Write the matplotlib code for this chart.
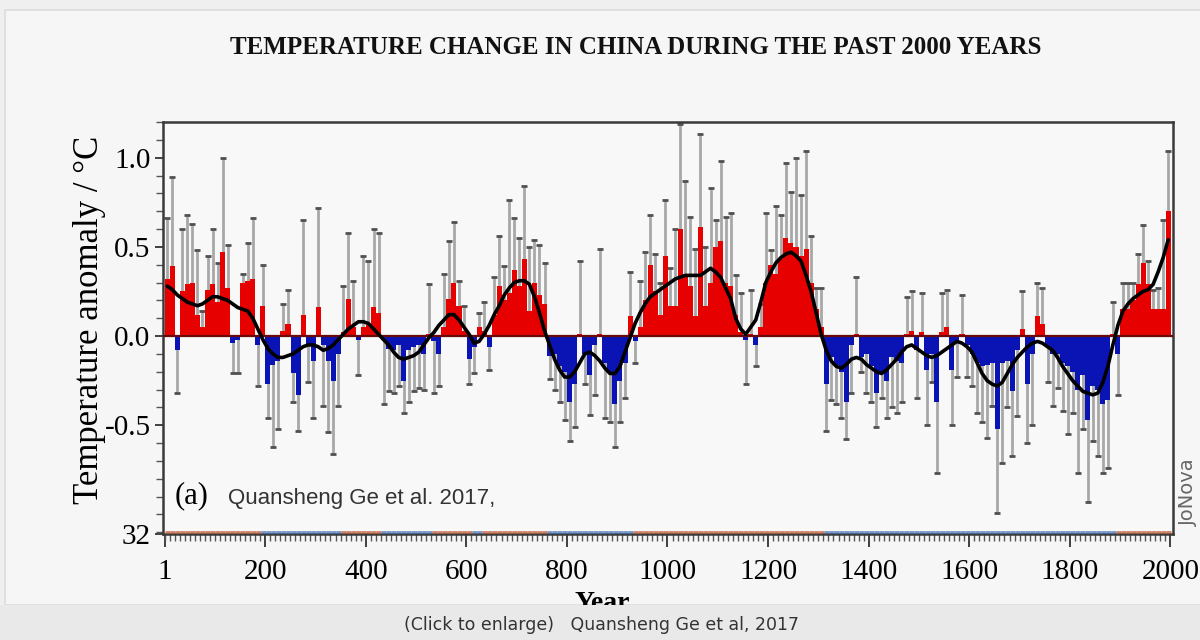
import numpy as np
import matplotlib
matplotlib.use("Agg")
import matplotlib.pyplot as plt
from matplotlib.patches import Rectangle
from matplotlib.collections import LineCollection
from matplotlib.transforms import Bbox, TransformedBbox

# ---------------- data (decadal anomalies, °C) ----------------
decade_start = list(range(1, 2000, 10))  # 200 decades

anomaly = [
    0.32, 0.39, -0.08, 0.25, 0.29, 0.30, 0.12, 0.05, 0.26, 0.29,
    0.19, 0.47, 0.27, -0.04, -0.02, 0.30, 0.31, 0.32, -0.05, 0.17,
    -0.27, -0.16, -0.14, 0.03, 0.07, -0.21, -0.33, 0.12, -0.05, -0.14,
    0.16, -0.05, -0.14, -0.25, -0.10, 0.02, 0.21, 0.05, -0.02, 0.05,
    0.06, 0.16, 0.13, -0.02, -0.07, -0.08, -0.05, -0.25, -0.08, -0.06,
    -0.05, -0.10, 0.01, -0.03, -0.10, 0.05, 0.21, 0.30, 0.17, 0.03,
    -0.13, -0.06, 0.05, 0.03, -0.06, 0.12, 0.28, 0.20, 0.24, 0.37,
    0.28, 0.43, 0.14, 0.30, 0.23, 0.18, -0.11, -0.10, -0.17, -0.20,
    -0.37, -0.27, 0.01, -0.10, -0.22, -0.05, 0.01, -0.15, -0.20, -0.38,
    -0.25, -0.15, 0.11, -0.03, 0.05, 0.20, 0.40, 0.25, 0.12, 0.45,
    0.17, 0.17, 0.60, 0.35, 0.28, 0.11, 0.61, 0.17, 0.30, 0.50,
    0.53, 0.30, 0.28, 0.12, 0.02, -0.02, 0.01, -0.05, 0.05, 0.30,
    0.40, 0.35, 0.43, 0.55, 0.52, 0.50, 0.45, 0.49, 0.30, 0.15,
    0.05, -0.27, -0.12, -0.16, -0.20, -0.37, -0.05, 0.01, -0.12, -0.10,
    -0.17, -0.32, -0.20, -0.25, -0.12, -0.14, -0.15, 0.01, 0.03, -0.08,
    0.02, -0.19, -0.10, -0.37, 0.02, 0.05, -0.19, -0.03, 0.01, -0.05,
    -0.10, -0.15, -0.17, -0.16, -0.15, -0.52, -0.15, -0.14, -0.31, -0.08,
    0.04, -0.27, -0.10, 0.11, 0.07, -0.06, -0.10, -0.10, -0.15, -0.17,
    -0.20, -0.30, -0.22, -0.47, -0.28, -0.30, -0.38, -0.36, 0.01, -0.10,
    0.15, 0.15, 0.20, 0.29, 0.41, 0.29, 0.15, 0.15, 0.15, 0.70,
]

# outer end of the uncertainty range (upper for warm, lower for cold decades)
bound = [
    0.66, 0.89, -0.32, 0.60, 0.68, 0.63, 0.48, 0.14, 0.45, 0.60,
    0.41, 1.00, 0.51, -0.21, -0.21, 0.35, 0.52, 0.66, -0.28, 0.40,
    -0.46, -0.62, -0.52, 0.18, 0.26, -0.37, -0.53, 0.65, -0.26, -0.46,
    0.72, -0.39, -0.54, -0.66, -0.39, 0.28, 0.58, 0.31, -0.22, 0.45,
    0.42, 0.60, 0.58, -0.38, -0.31, -0.32, -0.28, -0.43, -0.37, -0.31,
    -0.29, -0.30, 0.29, -0.32, -0.28, 0.35, 0.53, 0.64, 0.31, 0.17,
    -0.27, -0.21, 0.13, 0.19, -0.19, 0.33, 0.56, 0.39, 0.76, 0.66,
    0.55, 0.84, 0.50, 0.54, 0.51, 0.41, -0.24, -0.30, -0.37, -0.47,
    -0.59, -0.51, 0.42, -0.27, -0.44, -0.33, 0.49, -0.46, -0.48, -0.62,
    -0.48, -0.35, 0.36, -0.15, 0.31, 0.47, 0.68, 0.46, 0.30, 0.76,
    0.38, 0.60, 1.19, 0.87, 0.67, 0.49, 1.13, 0.50, 0.83, 0.65,
    0.98, 0.67, 0.69, 0.34, 0.24, -0.27, 0.26, -0.17, 0.18, 0.69,
    0.48, 0.73, 0.68, 0.97, 0.81, 1.00, 0.79, 1.04, 0.56, 0.27,
    0.27, -0.53, -0.36, -0.38, -0.46, -0.58, -0.32, 0.33, -0.20, -0.32,
    -0.37, -0.51, -0.35, -0.46, -0.40, -0.43, -0.37, 0.22, 0.25, -0.35,
    0.24, -0.50, -0.26, -0.77, 0.24, 0.26, -0.50, -0.23, 0.23, -0.23,
    -0.28, -0.43, -0.48, -0.57, -0.39, -0.99, -0.71, -0.40, -0.67, -0.45,
    0.25, -0.60, -0.50, 0.30, 0.27, -0.26, -0.39, -0.29, -0.42, -0.55,
    -0.43, -0.77, -0.52, -0.93, -0.59, -0.67, -0.77, -0.74, 0.19, -0.33,
    0.30, 0.30, 0.30, 0.46, 0.62, 0.42, 0.26, 0.27, 0.65, 1.04,
]

# smoothed curve (read per decade)
smooth = [
    0.28, 0.26, 0.23, 0.21, 0.19, 0.18, 0.17, 0.18, 0.20, 0.22,
    0.22, 0.21, 0.20, 0.18, 0.16, 0.15, 0.14, 0.10, 0.04, -0.02,
    -0.07, -0.10, -0.12, -0.12, -0.11, -0.10, -0.08, -0.06, -0.05, -0.05,
    -0.06, -0.08, -0.07, -0.05, -0.02, 0.01, 0.04, 0.06, 0.08, 0.08,
    0.07, 0.04, 0.01, -0.02, -0.05, -0.09, -0.12, -0.13, -0.12, -0.11,
    -0.09, -0.05, -0.01, 0.02, 0.06, 0.09, 0.12, 0.12, 0.09, 0.05,
    0.01, -0.04, -0.03, 0.01, 0.06, 0.12, 0.17, 0.23, 0.27, 0.30,
    0.31, 0.31, 0.29, 0.22, 0.13, 0.03, -0.05, -0.13, -0.19, -0.23,
    -0.23, -0.20, -0.15, -0.10, -0.09, -0.11, -0.14, -0.18, -0.21, -0.21,
    -0.17, -0.09, -0.01, 0.07, 0.13, 0.18, 0.22, 0.24, 0.26, 0.28,
    0.30, 0.32, 0.33, 0.34, 0.34, 0.34, 0.34, 0.36, 0.38, 0.36,
    0.33, 0.27, 0.21, 0.10, 0.04, 0.01, 0.05, 0.09, 0.19, 0.30,
    0.36, 0.41, 0.44, 0.46, 0.47, 0.45, 0.42, 0.34, 0.25, 0.13,
    0.01, -0.08, -0.14, -0.17, -0.18, -0.16, -0.13, -0.12, -0.13, -0.16,
    -0.18, -0.20, -0.21, -0.19, -0.16, -0.13, -0.09, -0.06, -0.05, -0.07,
    -0.09, -0.11, -0.12, -0.11, -0.09, -0.07, -0.05, -0.03, -0.04, -0.06,
    -0.09, -0.15, -0.21, -0.25, -0.27, -0.28, -0.26, -0.21, -0.16, -0.12,
    -0.09, -0.06, -0.04, -0.03, -0.04, -0.06, -0.08, -0.12, -0.17, -0.21,
    -0.25, -0.28, -0.31, -0.32, -0.33, -0.32, -0.26, -0.17, -0.05, 0.06,
    0.14, 0.18, 0.21, 0.23, 0.25, 0.26, 0.29, 0.36, 0.44, 0.54,
]

xtick_years = [1, 200, 400, 600, 800, 1000, 1200, 1400, 1600, 1800, 2000]
ytick_vals = [-0.5, 0.0, 0.5, 1.0]
ytick_labels = ["-0.5", "0.0", "0.5", "1.0"]

title = "TEMPERATURE CHANGE IN CHINA DURING THE PAST 2000 YEARS"
caption = "(Click to enlarge)   Quansheng Ge et al, 2017"

# ---------------- figure ----------------
W, H = 1200, 640
fig = plt.figure(figsize=(W / 100, H / 100), dpi=100, facecolor="#efefef")

# card background
fig.patches.append(Rectangle((5 / W, 1 - 605 / H), 1.2, (605 - 10) / H,
                             transform=fig.transFigure, facecolor="#f6f6f6",
                             edgecolor="#dcdcdc", lw=1.2, zorder=-5))

ax = fig.add_axes([163 / W, 1 - 534 / H, (1173 - 163) / W, (534 - 122) / H])
ax.set_facecolor("#f8f8f8")

x = np.array(decade_start) + 4.5
val = np.array(anomaly)
bnd = np.array(bound)
colors = np.where(val >= 0, "#e60000", "#0a14b4")

# uncertainty stems (behind bars)
ax.vlines(x, 0, bnd, colors="#a8a8a8", lw=2.0, zorder=1)
ax.plot(x, bnd, ls="none", marker="_", ms=5, mew=2.0, color="#505050", zorder=1.5)
# bars
ax.bar(x, val, width=10, color=colors, edgecolor="none", zorder=2)
ax.axhline(0, color="#6a0a0a", lw=1.6, zorder=3)
# smoothed curve
ax.plot(x, smooth, color="black", lw=2.6, zorder=4, solid_capstyle="round")

ax.set_xlim(-3, 2005)
ax.set_ylim(-1.11, 1.2)

# thin warm/cold strip along the bottom edge
segs = [[(decade_start[i], -1.098), (decade_start[i] + 10, -1.098)] for i in range(len(x))]
seg_cols = ["#b8502a" if s >= 0 else "#3a6ab0" for s in smooth]
ax.add_collection(LineCollection(segs, colors=seg_cols, lw=2.0, zorder=5, alpha=0.7))

# ticks
serif = ["Liberation Serif", "DejaVu Serif"]
ax.set_xticks(xtick_years)
ax.set_xticklabels([str(v) for v in xtick_years], fontfamily=serif, fontsize=21)
ax.set_xticks(np.arange(0, 2001, 10), minor=True)
ax.set_yticks(ytick_vals + [-1.11])
ax.set_yticklabels(ytick_labels + ["32"], fontfamily=serif, fontsize=21)
ax.set_yticks(np.arange(-1.1, 1.21, 0.1), minor=True)
ax.tick_params(axis="x", which="major", direction="out", length=9, width=1.3, pad=9, color="#333333")
ax.tick_params(axis="x", which="minor", direction="out", length=5, width=1.0, color="#555555")
ax.tick_params(axis="y", which="major", direction="out", length=6, width=1.3, pad=3, color="#333333")
ax.tick_params(axis="y", which="minor", direction="out", length=5, width=1.0, color="#555555")
for s in ax.spines.values():
    s.set_color("#3a3a3a")
    s.set_linewidth(1.8)

ax.set_ylabel("Temperature anomaly / °C", fontfamily=serif, fontsize=25)
ax.yaxis.set_label_coords(-0.056, 0.52)

# in-plot annotations
ax.text(0.012, 0.092, "(a)", transform=ax.transAxes, fontfamily=serif,
        fontsize=22, ha="left", va="center", zorder=6)
ax.text(0.064, 0.085, "Quansheng Ge et al. 2017,", transform=ax.transAxes,
        fontfamily=["Liberation Sans", "DejaVu Sans"], fontsize=16,
        color="#333333", ha="left", va="center", zorder=6)

fig.text(1188 / W, 1 - 492 / H, "JoNova", rotation=90, fontsize=14,
         color="#666666", ha="center", va="center", fontfamily="DejaVu Sans")

fig.text(636 / W, 1 - 47 / H, title, fontfamily=serif, fontsize=18,
         fontweight="bold", ha="center", va="center", color="#111111")

# x-axis label (partially hidden by the caption strip)
ytxt = fig.text(602 / W, 1 - 591 / H, "Year", fontfamily=serif, fontsize=20,
                fontweight="bold", ha="center", va="top", zorder=1)
clip = TransformedBbox(Bbox([[0, (640 - 605) / H], [1, 1]]), fig.transFigure)
ytxt.set_clip_box(clip)
ytxt.set_clip_on(True)

# caption strip
fig.patches.append(Rectangle((0, 0), 1, (640 - 605) / H, transform=fig.transFigure,
                             facecolor="#e9e9e9", edgecolor="none", zorder=10))
fig.text(602 / W, 1 - 625 / H, caption, fontsize=12.5, color="#333333",
         ha="center", va="center", fontfamily="DejaVu Sans", zorder=11)

fig.savefig("out.png", dpi=100, facecolor=fig.get_facecolor())
